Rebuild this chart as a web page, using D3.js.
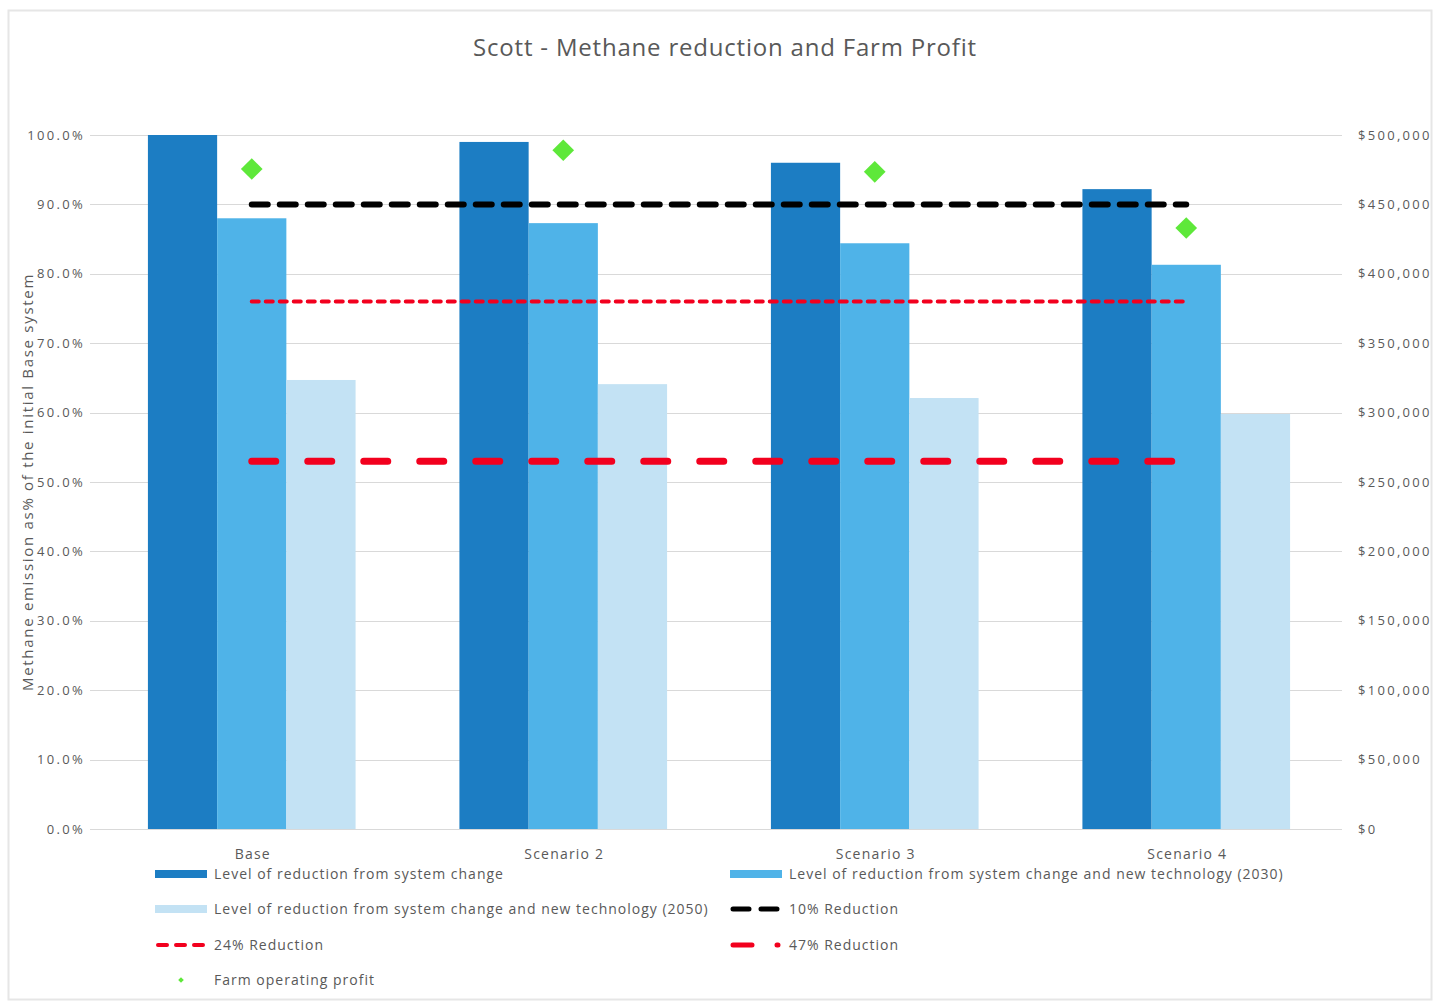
<!DOCTYPE html>
<html>
<head>
<meta charset="utf-8">
<script src="https://cdn.jsdelivr.net/npm/d3@7"></script>
<style>
  html, body { margin: 0; padding: 0; background: #ffffff; }
  svg { display: block; }
  text { font-family: "Open Sans", "Noto Sans", sans-serif; }
</style>
</head>
<body>
<svg id="chart" width="1436" height="1003"></svg>
<script>
// Scenarios along the x axis
const categories = ["Base", "Scenario 2", "Scenario 3", "Scenario 4"];

// Methane emission as share of the initial Base system (%)
const systemChange = [100.0, 99.0, 96.0, 92.2];
const newTech2030 = [88.0, 87.3, 84.4, 81.3];
const newTech2050 = [64.7, 64.1, 62.1, 59.8];

// Reduction target levels (% of Base emissions)
const target10 = [90, 90, 90, 90];
const target24 = [76, 76, 76, 76];
const target47 = [53, 53, 53, 53];

// Farm operating profit ($), right axis
const farmProfit = [475500, 489000, 473500, 433000];

// Axis ticks
const leftTicks = [0, 10, 20, 30, 40, 50, 60, 70, 80, 90, 100];
const rightTicks = [0, 50000, 100000, 150000, 200000, 250000, 300000, 350000, 400000, 450000, 500000];

const barSeries = [
  { name: "Level of reduction from system change", values: systemChange, color: "#1c7dc3" },
  { name: "Level of reduction from system change and new technology (2030)", values: newTech2030, color: "#4fb3e8" },
  { name: "Level of reduction from system change and new technology (2050)", values: newTech2050, color: "#c3e2f4" }
];

const lineSeries = [
  { name: "10% Reduction", values: target10, color: "#000000", width: 6, dash: "16 12" },
  { name: "24% Reduction", values: target24, color: "#f2001e", width: 4, dash: "7 7" },
  { name: "47% Reduction", values: target47, color: "#f2001e", width: 7, dash: "24 32" }
];

const textColor = "#595959";
const svg = d3.select("#chart");

// Outer chart frame
svg.append("rect")
  .attr("x", 8.5).attr("y", 10.5).attr("width", 1423).attr("height", 989)
  .attr("fill", "#ffffff").attr("stroke", "#e6e6e6").attr("stroke-width", 2);

const plot = { left: 96, right: 1342, top: 135, bottom: 829 };

const x = d3.scaleBand().domain(categories).range([plot.left, plot.right]).paddingInner(0).paddingOuter(0);
const inner = d3.scaleBand().domain(d3.range(barSeries.length)).range([0, x.bandwidth()]).paddingOuter(0.75).paddingInner(0);
const y = d3.scaleLinear().domain([0, 100]).range([plot.bottom, plot.top]);
const y2 = d3.scaleLinear().domain([0, 500000]).range([plot.bottom, plot.top]);

// Title
svg.append("text")
  .attr("x", 725).attr("y", 56)
  .attr("text-anchor", "middle")
  .attr("font-size", 24).attr("letter-spacing", 0.8).attr("fill", textColor)
  .text("Scott - Methane reduction and Farm Profit");

// Gridlines
svg.append("g").selectAll("line").data(leftTicks).join("line")
  .attr("x1", 90).attr("x2", plot.right)
  .attr("y1", d => Math.round(y(d)) + 0.5).attr("y2", d => Math.round(y(d)) + 0.5)
  .attr("stroke", "#d9d9d9").attr("stroke-width", 1);

// Left axis
const leftAxis = d3.axisLeft(y).tickValues(leftTicks).tickSize(0).tickPadding(0)
  .tickFormat(d => d3.format(".1f")(d) + "%");
const gl = svg.append("g").attr("transform", `translate(85,0)`).call(leftAxis);
gl.select(".domain").remove();
gl.selectAll("text").attr("font-size", 13).attr("letter-spacing", 2.3)
  .attr("fill", textColor).attr("font-family", "Open Sans");

// Right axis
const rightAxis = d3.axisRight(y2).tickValues(rightTicks).tickSize(0).tickPadding(0)
  .tickFormat(d => "$" + d3.format(",")(d));
const gr = svg.append("g").attr("transform", `translate(1358,0)`).call(rightAxis);
gr.select(".domain").remove();
gr.selectAll("text").attr("font-size", 13).attr("letter-spacing", 2.3)
  .attr("fill", textColor).attr("font-family", "Open Sans");

// Left axis title
svg.append("text")
  .attr("transform", `translate(33,${(plot.top + plot.bottom) / 2}) rotate(-90)`)
  .attr("text-anchor", "middle")
  .attr("font-size", 15).attr("letter-spacing", 1.7).attr("fill", textColor)
  .text("Methane emission as% of the initial Base system");

// Bars
const barGroups = svg.append("g").selectAll("g").data(barSeries).join("g")
  .attr("fill", d => d.color);
barGroups.each(function (s, si) {
  d3.select(this).selectAll("rect").data(s.values).join("rect")
    .attr("x", (v, i) => x(categories[i]) + inner(si))
    .attr("width", inner.bandwidth())
    .attr("y", v => y(v))
    .attr("height", v => y(0) - y(v));
});

// Category labels
svg.append("g").selectAll("text").data(categories).join("text")
  .attr("x", d => x(d) + x.bandwidth() / 2 + 1)
  .attr("y", 859)
  .attr("text-anchor", "middle")
  .attr("font-size", 14).attr("letter-spacing", 1.2).attr("fill", textColor)
  .text(d => d);

// Target lines
const cx = (d, i) => x(categories[i]) + x.bandwidth() / 2;
const lineGen = d3.line().x(cx).y(v => y(v));
svg.append("g").selectAll("path").data(lineSeries).join("path")
  .attr("d", d => lineGen(d.values))
  .attr("fill", "none")
  .attr("stroke", d => d.color)
  .attr("stroke-width", d => d.width)
  .attr("stroke-dasharray", d => d.dash)
  .attr("stroke-linecap", "round");

// Farm operating profit markers
const diamond = d3.symbol().type(d3.symbolDiamond2).size(300);
svg.append("g").selectAll("path").data(farmProfit).join("path")
  .attr("transform", (v, i) => `translate(${cx(v, i)},${y2(v)})`)
  .attr("d", diamond)
  .attr("fill", "#5ee83a");

// Legend
const legendItems = [
  { type: "bar", s: barSeries[0], x: 155, y: 874 },
  { type: "bar", s: barSeries[1], x: 730, y: 874 },
  { type: "bar", s: barSeries[2], x: 155, y: 909 },
  { type: "line", s: lineSeries[0], x: 730, y: 909, dash: "16 12" },
  { type: "line", s: lineSeries[1], x: 155, y: 945, dash: "9 9" },
  { type: "line", s: lineSeries[2], x: 730, y: 945, dash: "19 25" },
  { type: "marker", s: { name: "Farm operating profit", color: "#5ee83a" }, x: 155, y: 980 }
];
const lg = svg.append("g").selectAll("g").data(legendItems).join("g")
  .attr("transform", d => `translate(${d.x},${d.y})`);
lg.filter(d => d.type === "bar").append("rect")
  .attr("x", 0).attr("y", -4).attr("width", 52).attr("height", 8)
  .attr("fill", d => d.s.color);
lg.filter(d => d.type === "line").append("line")
  .attr("x1", 3).attr("x2", 48).attr("y1", 0).attr("y2", 0)
  .attr("stroke", d => d.s.color)
  .attr("stroke-width", d => Math.min(d.s.width, 5))
  .attr("stroke-dasharray", d => d.dash)
  .attr("stroke-linecap", "round");
lg.filter(d => d.type === "marker").append("path")
  .attr("transform", "translate(26,0)")
  .attr("d", d3.symbol().type(d3.symbolDiamond2).size(20))
  .attr("fill", d => d.s.color);
lg.append("text")
  .attr("x", 59).attr("y", 0).attr("dy", "0.35em")
  .attr("font-size", 14).attr("letter-spacing", 1).attr("fill", textColor)
  .text(d => d.s.name);
</script>
</body>
</html>
